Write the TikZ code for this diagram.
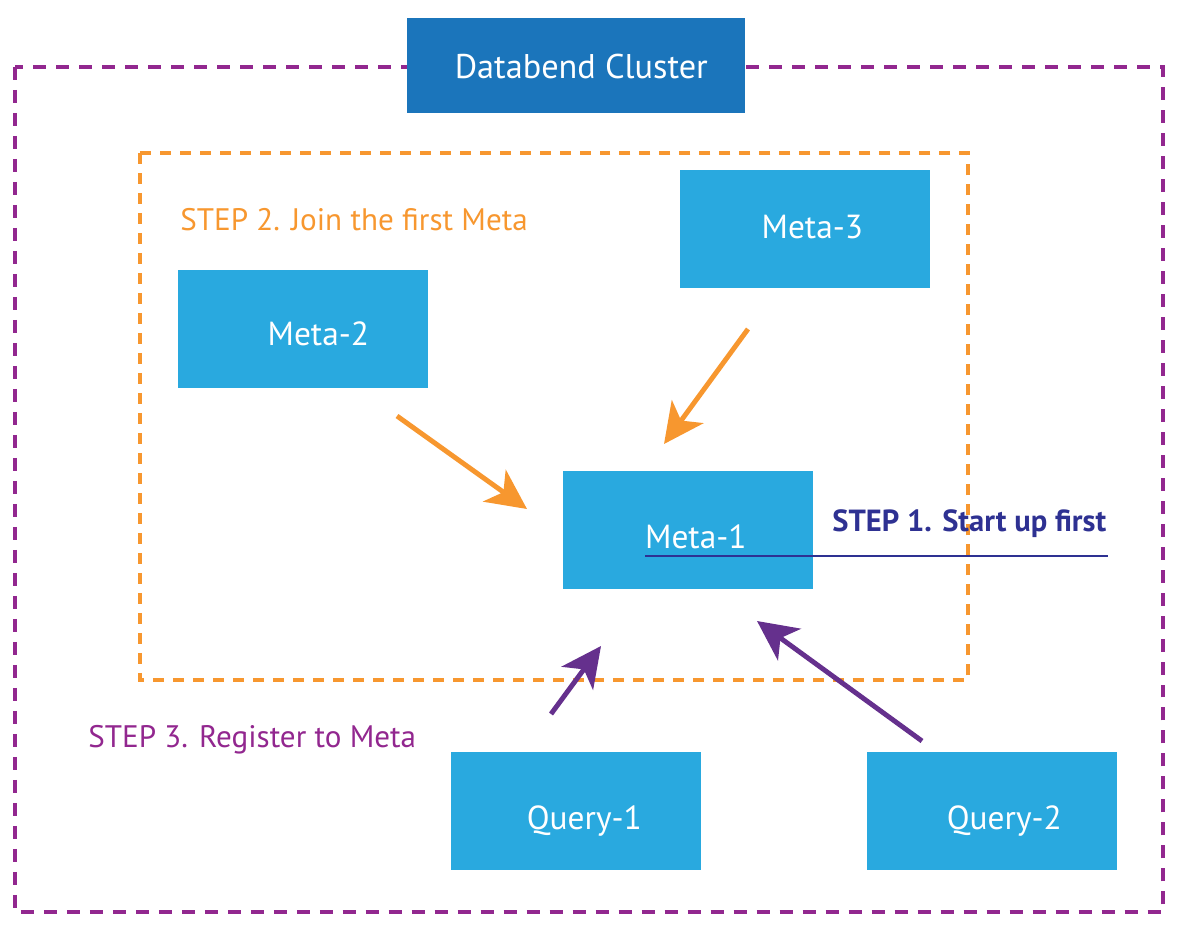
\documentclass[tikz,border=0pt]{standalone}
\usepackage{fontspec}
\setmainfont{PT Sans}
\usepackage{tikz}
\usetikzlibrary{arrows.meta}
\definecolor{clusterblue}{HTML}{1B75BB}
\definecolor{metablue}{HTML}{29A9DF}
\definecolor{steporange}{HTML}{F7972F}
\definecolor{steppurple}{HTML}{92278F}
\definecolor{arrowpurple}{HTML}{65308D}
\definecolor{stepnavy}{HTML}{2E3192}

\begin{document}
\begin{tikzpicture}[x=0.02cm,y=-0.02cm,%
% common options for the boxes:
box/.style = {fill=metablue, text=white, anchor=north west, inner sep=0,
            minimum width=5cm, minimum height=2.36cm, text depth=0pt,
            font=\fontsize{19}{21}\selectfont},
% common options for the step texts:
steptext/.style = {anchor=base west, inner sep=0, font=\fontsize{17.7}{20}\selectfont},
% common options for the arrows:
push/.style = {line width=2.8pt, -{Stealth[length=0.8cm,width=0.78cm,inset=0.22cm]}}]
\useasboundingbox (0,0) rectangle (1182,930);
\draw[steppurple, line width=1.8pt, dash pattern=on 0.26cm off 0.2cm] (15,67) rectangle (1163,912);
\draw[steporange, line width=1.8pt, dash pattern=on 0.22cm off 0.18cm] (140,153) rectangle (968,680);
\node[box, fill=clusterblue, minimum width=6.76cm, minimum height=1.9cm, text height=0.5cm,
      font=\fontsize{19.5}{21}\selectfont] (cluster) at (407,18) {\hspace{0.2cm}Databend Cluster};
\node[box, text height=0.36cm] (meta3) at (680,170) {\hspace{0.28cm}Meta-3};
\node[box, text height=0.64cm] (meta2) at (178,270) {\hspace{0.6cm}Meta-2};
\node[box, text height=0.72cm] (meta1) at (563,471) {\hspace{0.3cm}Meta-1};
\node[box, text height=0.72cm] (query1) at (451,752) {\hspace{0.32cm}Query-1};
\node[box, text height=0.72cm] (query2) at (867,752) {\hspace{0.48cm}Query-2};
\node[steptext, text=stepnavy, font=\bfseries\fontsize{17.4}{20}\selectfont] (step1) at (832,531) {STEP 1. Start up first};
\node[steptext, text=steporange] (step2) at (180,230) {STEP 2. Join the first Meta};
\node[steptext, text=steppurple] (step3) at (88,747) {STEP 3. Register to Meta};
% the line under step 1
\coordinate (ul1) at (645,556);
\coordinate (ul2) at (1108,556);
\draw[stepnavy, line width=1.5pt] (ul1) -- (ul2);
% arrow ends
\coordinate (a2s) at (397,416);
\coordinate (a2e) at (527,509);
\coordinate (a3s) at (748,329);
\coordinate (a3e) at (664,444);
\coordinate (q1s) at (551,714);
\coordinate (q1e) at (601,646);
\coordinate (q2s) at (922,741);
\coordinate (q2e) at (757,621);
\draw[push, steporange] (a2s) -- (a2e);
\draw[push, steporange] (a3s) -- (a3e);
\draw[push, arrowpurple] (q1s) -- (q1e);
\draw[push, arrowpurple] (q2s) -- (q2e);
\end{tikzpicture}
\end{document}
